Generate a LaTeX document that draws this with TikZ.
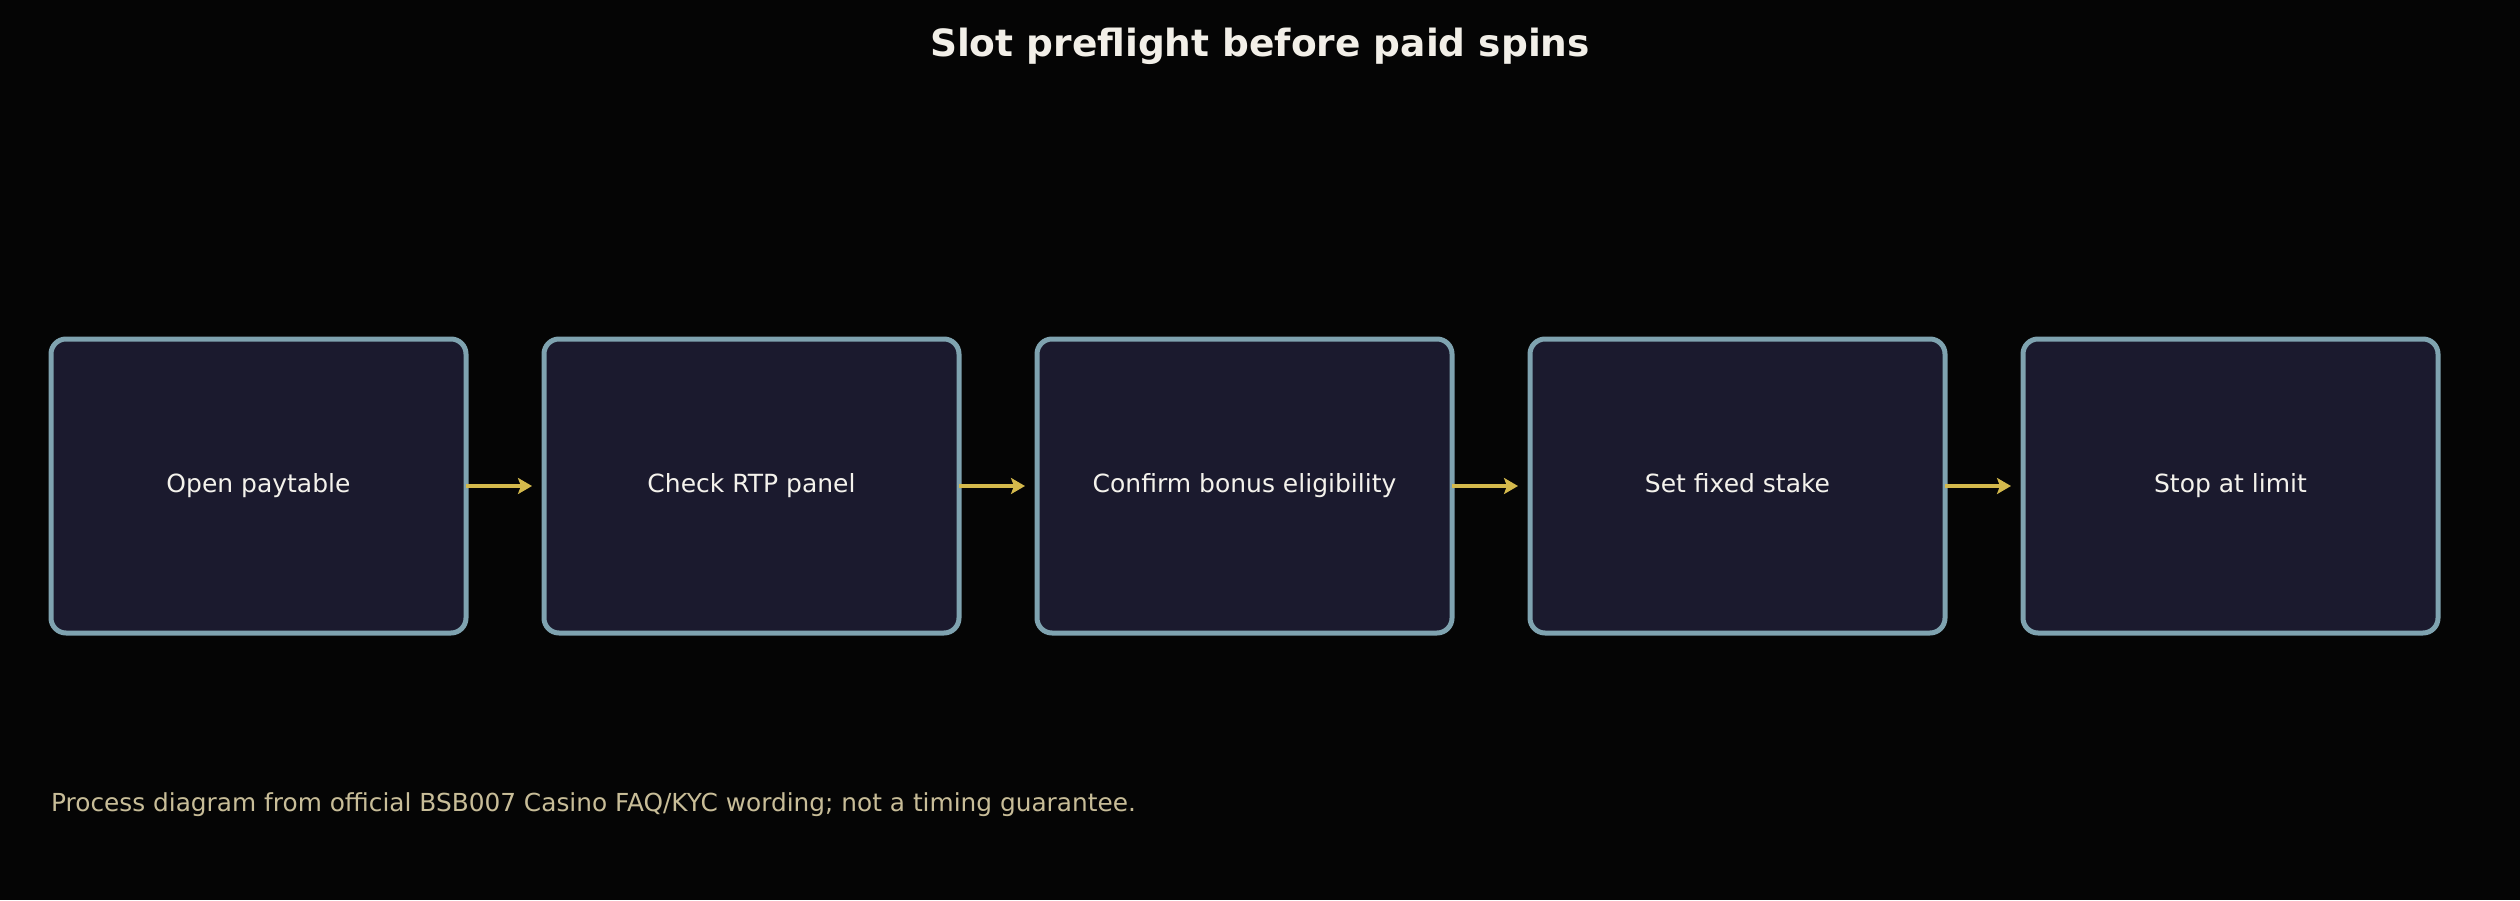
\documentclass[tikz,border=0pt]{standalone}
\usepackage{fontspec}
\setmainfont{DejaVu Sans}
\usetikzlibrary{arrows.meta}
\definecolor{bgc}{HTML}{050505}
\definecolor{boxfill}{HTML}{1B1A2E}
\definecolor{boxline}{HTML}{7FA3B0}
\definecolor{arrowc}{HTML}{D4B94C}
\definecolor{titlec}{HTML}{F2EFE8}
\definecolor{labelc}{HTML}{F4F2EC}
\definecolor{footc}{HTML}{C8BD98}
\tikzset{
  stepbox/.style={draw=boxline, fill=boxfill, line width=5pt, rounded corners=15pt,
    minimum width=415pt, minimum height=294pt, inner sep=0pt, outer sep=0pt,
    text height=18.5pt, text depth=5.5pt,
    text=labelc, font=\fontsize{25pt}{30pt}\selectfont},
  flowarrow/.style={draw=arrowc, line width=4pt,
    -{Stealth[length=14pt,width=16pt,inset=3pt]}}
}
\begin{document}
\begin{tikzpicture}[x=1pt,y=-1pt]
\fill[bgc] (0,0) rectangle (2520,900);
\useasboundingbox (0,0) rectangle (2520,900);
\node[text=titlec, font=\bfseries\fontsize{37.5pt}{45pt}\selectfont] (title) at (1260,46) {Slot preflight before paid spins};
\node[stepbox] (b1) at (258.5,486) {Open paytable};
\node[stepbox] (b2) at (751.5,486) {Check RTP panel};
\node[stepbox] (b3) at (1244.5,486) {Confirm bonus eligibility};
\node[stepbox] (b4) at (1737.5,486) {Set fixed stake};
\node[stepbox] (b5) at (2230.5,486) {Stop at limit};
\draw[flowarrow] (b1.east) -- ([xshift=-12pt]b2.west);
\draw[flowarrow] (b2.east) -- ([xshift=-12pt]b3.west);
\draw[flowarrow] (b3.east) -- ([xshift=-12pt]b4.west);
\draw[flowarrow] (b4.east) -- ([xshift=-12pt]b5.west);
\node[anchor=west, inner sep=0pt, text=footc, font=\fontsize{24.8pt}{30pt}\selectfont] (foot) at (51,805) {Process diagram from official BSB007 Casino FAQ/KYC wording; not a timing guarantee.};
\end{tikzpicture}
\end{document}
